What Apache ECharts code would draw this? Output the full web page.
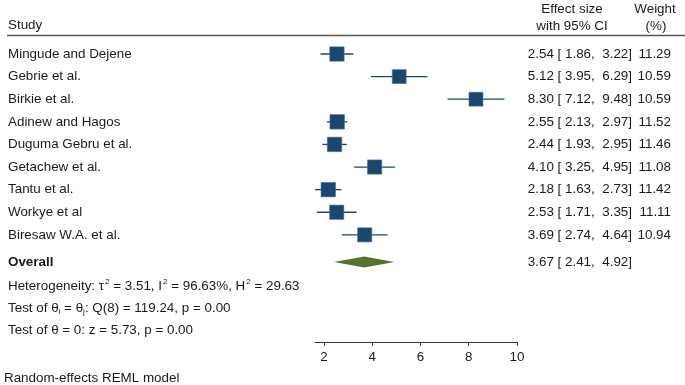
<!DOCTYPE html>
<html>
<head>
<meta charset="utf-8">
<script src="https://cdn.jsdelivr.net/npm/echarts@6/dist/echarts.min.js"></script>
<style>
  html, body { margin: 0; padding: 0; background: #fff; }
  #main { width: 685px; height: 385px; }
</style>
</head>
<body>
<div id="main"></div>
<script>
// study rows, top to bottom
const studies = [
  'Mingude and Dejene', 'Gebrie et al.', 'Birkie et al.', 'Adinew and Hagos',
  'Duguma Gebru et al.', 'Getachew et al.', 'Tantu et al.', 'Workye et al',
  'Biresaw W.A. et al.'
];
const effect = [2.54, 5.12, 8.30, 2.55, 2.44, 4.10, 2.18, 2.53, 3.69];
const ciLow = [1.86, 3.95, 7.12, 2.13, 1.93, 3.25, 1.63, 1.71, 2.74];
const ciHigh = [3.22, 6.29, 9.48, 2.97, 2.95, 4.95, 2.73, 3.35, 4.64];
const weights = [11.29, 10.59, 10.59, 11.52, 11.46, 11.08, 11.42, 11.11, 10.94];
// overall: estimate, lower, upper
const overall = [3.67, 2.41, 4.92];
const xTicks = [2, 4, 6, 8, 10];
const statLines = [
  'Heterogeneity: τ{sup|2} = 3.51, I{sup|2} = 96.63%, H{sup|2} = 29.63',
  'Test of θ{sub|i} = θ{sub|j}: Q(8) = 119.24, p = 0.00',
  'Test of θ = 0: z = 5.73, p = 0.00'
];

const FONT = 'Liberation Sans';
const FS = 13.4;
const TXT = '#1a1a1a';
const NAVY = '#1a476f';
const GREEN = '#55752f';

const rows = studies.map((s, i) => i);
const overallRow = studies.length + 0.2;
const statRows = statLines.map((s, i) => overallRow + 1.07 + i * 0.97);

const leftVals = rows.concat([overallRow], statRows);
const leftText = studies.concat(['{b|Overall}'], statLines);

const fmt2 = v => v.toFixed(2);
const ciText = (e, l, h) => fmt2(e) + ' [ ' + fmt2(l) + ',  ' + fmt2(h) + ']';
const rightVals = rows.concat([overallRow]);
const effText = effect.map((e, i) => ciText(e, ciLow[i], ciHigh[i]))
  .concat([ciText(overall[0], overall[1], overall[2])]);
const wText = weights.map(fmt2);

function lookup(vals, texts, v) {
  const i = vals.findIndex(x => Math.abs(x - v) < 1e-6);
  return i < 0 ? '' : texts[i];
}

const yBase = {
  type: 'value', inverse: true, min: -2, max: 12.74,
  axisLine: { show: false }, axisTick: { show: false }, splitLine: { show: false }
};

const chart = echarts.init(document.getElementById('main'));
chart.setOption({
  animation: false,
  backgroundColor: '#fff',
  textStyle: { fontFamily: FONT },
  grid: { left: 315, right: 168, top: 8.8, bottom: 43 },
  xAxis: {
    type: 'value', min: 1.63, max: 10,
    splitLine: { show: false },
    axisLine: { onZero: false, lineStyle: { color: '#333', width: 1 } },
    axisTick: { customValues: xTicks, length: 4, lineStyle: { color: '#333' } },
    axisLabel: { customValues: xTicks, fontSize: FS, color: TXT, margin: 9, fontFamily: FONT }
  },
  yAxis: [
    Object.assign({}, yBase, {
      position: 'left',
      axisLabel: {
        customValues: leftVals, align: 'left', margin: 307,
        fontSize: FS, color: TXT, fontFamily: FONT, lineHeight: 16,
        formatter: v => lookup(leftVals, leftText, v),
        rich: {
          b: { fontWeight: 'bold', fontSize: FS, fontFamily: FONT, color: TXT },
          sup: { fontSize: 8, fontFamily: FONT, color: TXT, verticalAlign: 'top', lineHeight: 16, padding: [0, 0, 0, 1] },
          sub: { fontSize: 8, fontFamily: FONT, color: TXT, verticalAlign: 'bottom', lineHeight: 16 }
        }
      }
    }),
    Object.assign({}, yBase, {
      position: 'right',
      axisLabel: {
        customValues: rightVals, align: 'right', margin: 115,
        fontSize: FS, color: TXT, fontFamily: FONT,
        formatter: v => lookup(rightVals, effText, v)
      }
    }),
    Object.assign({}, yBase, {
      position: 'right',
      axisLabel: {
        customValues: rows, align: 'right', margin: 154,
        fontSize: FS, color: TXT, fontFamily: FONT,
        formatter: v => lookup(rows, wText, v)
      }
    })
  ],
  graphic: [
    { type: 'text', x: 8, y: 25, style: { text: 'Study', font: FS + 'px ' + FONT, fill: TXT, align: 'left', verticalAlign: 'middle' } },
    { type: 'text', x: 572, y: 9, style: { text: 'Effect size', font: FS + 'px ' + FONT, fill: TXT, align: 'center', verticalAlign: 'middle' } },
    { type: 'text', x: 572, y: 26, style: { text: 'with 95% CI', font: FS + 'px ' + FONT, fill: TXT, align: 'center', verticalAlign: 'middle' } },
    { type: 'text', x: 655, y: 9, style: { text: 'Weight', font: FS + 'px ' + FONT, fill: TXT, align: 'center', verticalAlign: 'middle' } },
    { type: 'text', x: 656, y: 26, style: { text: '(%)', font: FS + 'px ' + FONT, fill: TXT, align: 'center', verticalAlign: 'middle' } },
    { type: 'line', shape: { x1: 7, y1: 35.5, x2: 685, y2: 35.5 }, style: { stroke: '#555', lineWidth: 1.4 } },
    { type: 'text', x: 4, y: 378, style: { text: 'Random-effects REML model', font: FS + 'px ' + FONT, fill: TXT, align: 'left', verticalAlign: 'middle' } }
  ],
  series: [
    {
      type: 'custom',
      name: 'ci',
      encode: { x: [0, 1], y: 2 },
      data: ciLow.map((l, i) => [l, ciHigh[i], i]),
      renderItem: (params, api) => {
        const a = api.coord([api.value(0), api.value(2)]);
        const b = api.coord([api.value(1), api.value(2)]);
        return {
          type: 'line',
          shape: { x1: a[0], y1: a[1], x2: b[0], y2: b[1] },
          style: { stroke: NAVY, lineWidth: 1.3 }
        };
      },
      z: 2
    },
    {
      type: 'scatter',
      name: 'effect',
      symbol: 'rect',
      data: effect.map((e, i) => [e, i, weights[i]]),
      symbolSize: v => 14.3 * Math.sqrt(v[2] / 11.2),
      itemStyle: { color: NAVY, opacity: 1, borderColor: '#4a6f92', borderWidth: 0.6 },
      z: 3
    },
    {
      type: 'custom',
      name: 'overall',
      encode: { x: [0, 1, 2], y: 3 },
      data: [[overall[0], overall[1], overall[2], overallRow]],
      renderItem: (params, api) => {
        const c = api.coord([api.value(0), api.value(3)]);
        const l = api.coord([api.value(1), api.value(3)]);
        const r = api.coord([api.value(2), api.value(3)]);
        const h = 5.5;
        return {
          type: 'polygon',
          shape: { points: [[l[0], c[1]], [c[0], c[1] - h], [r[0], c[1]], [c[0], c[1] + h]] },
          style: { fill: GREEN }
        };
      },
      z: 3
    }
  ]
});
</script>
</body>
</html>
